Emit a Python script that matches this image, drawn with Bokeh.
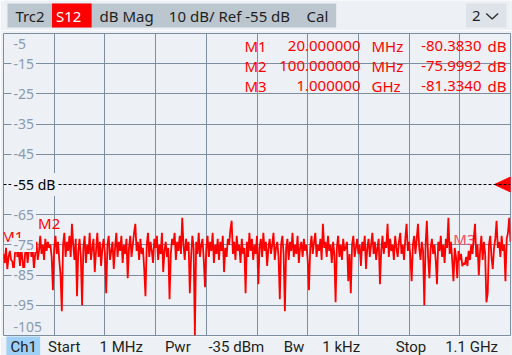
import numpy as np
from bokeh.plotting import figure
from bokeh.layouts import column
from bokeh.models import Range1d, Grid, FixedTicker, Span, Label
from bokeh.core.properties import value
from bokeh.embed import file_html
from bokeh.resources import INLINE

# ---------------- data ----------------
start_mhz = 1.0
stop_mhz = 1100.0
ref_level = -55
db_per_div = 10
y_top = -5
y_bottom = -105
y_tick_values = [-5, -15, -25, -35, -45, -55, -65, -75, -85, -95, -105]

# 401 sweep points, dB
trace_db = [
    -78, -81, -76, -83, -79, -77, -80, -80.5, -84, -78,
    -74, -79, -77, -82, -76, -80, -85, -78, -75, -81,
    -77, -73, -79, -76, -83, -78, -74, -80, -77, -72,
    -78, -75, -80, -73, -77, -74, -76, -75, -79, -90,
    -76, -72, -78, -74, -80, -85, -97, -75, -71, -79,
    -74, -77, -72, -79, -68, -75, -80, -73, -92, -77,
    -73, -79, -95, -76, -72, -81, -75, -78, -71, -80,
    -76, -73, -84, -77, -71, -79, -74, -82, -76, -73,
    -78, -91, -75, -72, -80, -77, -74, -83, -76, -71,
    -79, -74, -77, -72, -81, -75, -78, -73, -86, -76,
    -72, -79, -75, -71, -68, -77, -74, -80, -73, -78,
    -76, -83, -92, -75, -71, -79, -74, -77, -81, -73,
    -76, -72, -80, -75, -78, -71, -84, -77, -74, -79,
    -76, -93, -78, -73, -75, -71, -80, -74, -77, -72,
    -78, -66, -75, -80, -73, -77, -74, -91, -79, -72,
    -76, -105, -74, -78, -71, -79, -75, -73, -80, -89,
    -76, -72, -79, -74, -77, -71, -81, -75, -78, -73,
    -80, -74, -77, -72, -84, -76, -79, -73, -75, -70,
    -67, -78, -74, -80, -72, -77, -75, -81, -73, -78,
    -76, -91, -74, -79, -71, -77, -73, -80, -75, -78,
    -72, -88, -76, -73, -79, -71, -77, -74, -82, -76,
    -73, -78, -75, -71, -80, -76, -74, -79, -93, -75,
    -72, -78, -97, -76, -73, -80, -74, -77, -71, -79,
    -75, -78, -72, -81, -76, -74, -79, -73, -77, -75,
    -80, -90, -76, -72, -78, -74, -71, -79, -75, -77,
    -73, -80, -68, -76, -74, -79, -72, -77, -75, -81,
    -74, -78, -94, -76, -72, -79, -75, -80, -73, -77,
    -76, -74, -87, -78, -91, -75, -72, -79, -76, -73,
    -78, -75, -82, -74, -77, -72, -83, -76, -73, -79,
    -75, -71, -78, -74, -80, -76, -73, -88, -77, -72,
    -78, -74, -76, -68, -79, -73, -77, -75, -80, -72,
    -76, -79, -74, -71, -78, -75, -80, -73, -68, -77,
    -74, -79, -87, -75, -72, -78, -73, -68, -76, -80,
    -74, -77, -95, -75, -67, -79, -86, -76, -73, -78,
    -75, -80, -88, -74, -77, -72, -79, -75, -81, -73,
    -76, -66, -78, -74, -80, -87, -76, -79, -86, -77,
    -80, -78, -82, -81, -81.5, -79, -82, -77, -80, -75,
    -78, -73, -68, -79, -75, -85, -77, -72, -80, -74,
    -78, -94, -91, -75, -72, -79, -83, -76, -73, -67,
    -76, -74, -79, -72, -77, -75, -87, -73, -71, -66,
    -74,
]

marker_names = ["M1", "M2", "M3"]
marker_freq_mhz = [20.0, 100.0, 1000.0]
marker_db = [-80.3830, -75.9992, -81.3340]
marker_freq_text = ["20.000000", "100.000000", "1.000000"]
marker_unit_text = ["MHz", "MHz", "GHz"]
marker_db_text = ["-80.3830", "-75.9992", "-81.3340"]

header_items = ["Trc2", "S12", "dB Mag", "10 dB/ Ref -55 dB", "Cal"]
channel_menu = "2"
footer_items = ["Ch1", "Start", "1 MHz", "Pwr", "-35 dBm", "Bw", "1 kHz", "Stop", "1.1 GHz"]

# ---------------- style ----------------
BG = "#edf1f5"
BAR = "#bcc6cf"
GRID = "#7d8ea0"
LABEL = "#8a9ab0"
RED = "#ff0000"
BLUE = "#9fd0f5"
FONT_NAME = "Noto Sans"
FONT = value(FONT_NAME)
W = 512

# frame geometry (page px)
FL, FR, FT, FB = 3, 510, 33, 335
mhz_per_px = (stop_mhz - start_mhz) / (FR - FL)
db_per_px = (y_top - y_bottom) / (FB - FT)


def px2x(px):
    return start_mhz + (px - FL) * mhz_per_px


def py2y(py):
    return y_top - (py - FT) * db_per_px


# ---------------- header ----------------
top = figure(width=W, height=30, x_range=Range1d(0, W), y_range=Range1d(30, 0),
             x_axis_location=None, y_axis_location=None, toolbar_location=None,
             output_backend="svg", min_border=0, outline_line_color=None,
             background_fill_color=BG, border_fill_color=BG)
top.grid.visible = False
top.quad(left=[4], right=[336], top=[3], bottom=[27], fill_color=BAR, line_color=None)
top.quad(left=[49], right=[89], top=[3], bottom=[27], fill_color=RED, line_color=None)
top.quad(left=[467], right=[508], top=[3], bottom=[27], fill_color="#dde3e9", line_color=None)
hx = [12, 53, 97, 167, 306]
hcol = ["#1e1e1e", "white", "#1e1e1e", "#1e1e1e", "#1e1e1e"]
top.text(x=hx, y=[15] * len(header_items), text=header_items, text_color=hcol,
         text_font=FONT, text_font_size="15px", text_baseline="middle", text_align="left")
top.text(x=[473], y=[15], text=[channel_menu], text_color="#1e1e1e",
         text_font=FONT, text_font_size="15px", text_baseline="middle", text_align="left")
top.line(x=[487.5, 493.5, 499.5], y=[13, 18.5, 13], line_color="#333333", line_width=1.5)

# ---------------- main plot ----------------
p = figure(width=W, height=306, x_range=Range1d(start_mhz, stop_mhz),
           y_range=Range1d(y_bottom, y_top),
           x_axis_location=None, y_axis_location=None, toolbar_location=None,
           output_backend="svg", min_border_left=FL, min_border_right=W - FR,
           min_border_top=3, min_border_bottom=1,
           background_fill_color=BG, border_fill_color=BG,
           outline_line_color=GRID, outline_line_width=1)
p.center = [r for r in p.center if not isinstance(r, Grid)]
x_div = [start_mhz + k * (stop_mhz - start_mhz) / 10 for k in range(1, 10)]
y_div = [v for v in y_tick_values[1:-1] if v != ref_level]
p.add_layout(Grid(dimension=0, ticker=FixedTicker(ticks=x_div),
                  grid_line_color=GRID, grid_line_width=1))
p.add_layout(Grid(dimension=1, ticker=FixedTicker(ticks=y_div),
                  grid_line_color=GRID, grid_line_width=1))

p.add_layout(Span(location=ref_level, dimension="width", line_color="black",
                  line_dash="3 2", line_width=1))

# y labels
for v in y_tick_values:
    if v == y_top:
        yy, bg = py2y(43), None
    elif v == y_bottom:
        yy, bg = py2y(326), None
    else:
        yy, bg = v, BG
    txt = f"{v} dB" if v == ref_level else f"{v}"
    col = "black" if v == ref_level else LABEL
    p.add_layout(Label(x=px2x(11), y=yy, text=txt, text_color=col,
                       text_font=FONT_NAME, text_font_size="14px",
                       text_baseline="middle", text_align="left",
                       background_fill_color=bg, padding=2))

freqs = np.linspace(start_mhz, stop_mhz, len(trace_db))
lift = 25 * db_per_px

# M3 label behind the trace
p.text(x=[marker_freq_mhz[2]], y=[marker_db[2] + lift], text=[marker_names[2]],
       text_color="#ff4a60", text_font=FONT, text_font_size="15px",
       text_align="center", text_baseline="middle")

p.line(freqs, trace_db, line_color=RED, line_width=1.8)

p.text(x=marker_freq_mhz[:2], y=[d + lift for d in marker_db[:2]], text=marker_names[:2],
       text_color=RED, text_font=FONT, text_font_size="15px",
       text_align="center", text_baseline="middle")

# reference triangle
p.patch(x=[px2x(494), px2x(510), px2x(510)],
        y=[ref_level, ref_level + 7.5 * db_per_px, ref_level - 7.5 * db_per_px],
        fill_color=RED, line_color=RED)

# marker readout
rows = [py2y(45), py2y(65), py2y(85)]
common = dict(text_color=RED, text_font=FONT, text_font_size="15px", text_baseline="middle")
p.text(x=[px2x(244)] * 3, y=rows, text=marker_names, text_align="left", **common)
p.text(x=[px2x(360)] * 3, y=rows, text=marker_freq_text, text_align="right", **common)
p.text(x=[px2x(371)] * 3, y=rows, text=marker_unit_text, text_align="left", **common)
p.text(x=[px2x(481)] * 3, y=rows, text=marker_db_text, text_align="right", **common)
p.text(x=[px2x(487)] * 3, y=rows, text=["dB"] * 3, text_align="left", **common)

# ---------------- footer ----------------
bot = figure(width=W, height=19, x_range=Range1d(0, W), y_range=Range1d(19, 0),
             x_axis_location=None, y_axis_location=None, toolbar_location=None,
             output_backend="svg", min_border=0, outline_line_color=None,
             background_fill_color=BG, border_fill_color=BG)
bot.grid.visible = False
bot.quad(left=[3], right=[37], top=[-1], bottom=[19], fill_color=BLUE, line_color=None)
fx = [7, 45, 97, 163, 207, 283, 322, 396, 446]
bot.text(x=fx, y=[10] * len(footer_items), text=footer_items, text_color="#1e1e1e",
         text_font=value("Roboto"), text_font_size="15px", text_baseline="middle",
         text_align="left")

layout = column(top, p, bot, spacing=0)
open("out.html", "w").write(file_html(layout, INLINE))
